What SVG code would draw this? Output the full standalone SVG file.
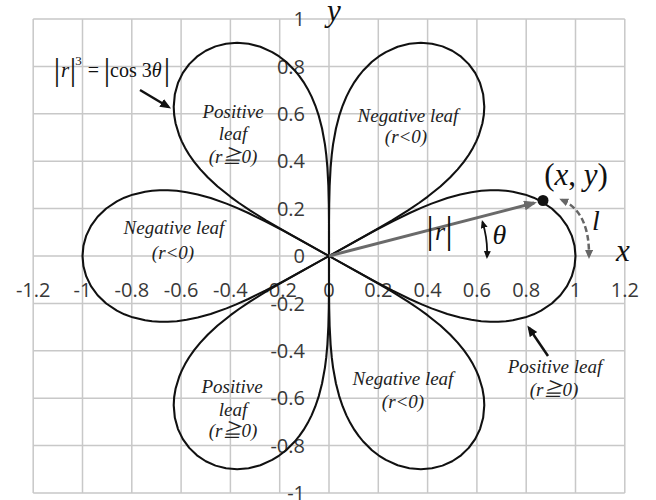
<svg xmlns="http://www.w3.org/2000/svg" xmlns:xlink="http://www.w3.org/1999/xlink" width="656" height="500" viewBox="0 0 656 500">
<style>
.grid{stroke:#c8c8c8;stroke-width:1.5;fill:none}
.num{font-family:"Open Sans","Liberation Sans",sans-serif;font-size:20px;fill:#383838}
.lbl{font-family:"Liberation Serif","Noto Sans CJK JP",serif;font-style:italic;font-size:19px;fill:#222;text-anchor:middle}
.math{font-family:"Liberation Serif","DejaVu Serif",serif;fill:#111}
.it{font-style:italic}
</style>
<defs>
<path id="leaf" d="M0,0 L0.11942,0.06881 0.18984,0.10872 0.25844,0.14622 0.32717,0.18135 0.37623,0.20428 0.41591,0.22114 0.48008,0.24461 0.53249,0.25971 0.57756,0.26932 0.61762,0.27498 0.65384,0.27754 0.68696,0.27755 0.71753,0.27543 0.74583,0.27146 0.79667,0.25886 0.83033,0.24596 0.86055,0.23058 0.90379,0.20036 0.93870,0.16552 0.96562,0.12713 0.98474,0.08615 0.99619,0.04350 1,0 0.99619,-0.04350 0.98474,-0.08615 0.96562,-0.12713 0.93870,-0.16552 0.90379,-0.20036 0.86055,-0.23058 0.83033,-0.24596 0.79667,-0.25886 0.74583,-0.27146 0.71753,-0.27543 0.68696,-0.27755 0.65384,-0.27754 0.61762,-0.27498 0.57756,-0.26932 0.53249,-0.25971 0.48008,-0.24461 0.41591,-0.22114 0.37623,-0.20428 0.32717,-0.18135 0.25844,-0.14622 0.18984,-0.10872 0.11942,-0.06881 Z"/>
<marker id="ahGray" markerUnits="userSpaceOnUse" markerWidth="14" markerHeight="10" refX="10" refY="5" orient="auto"><path d="M0,0 L13,5 L0,10 z" fill="#6a6a6a"/></marker>
<marker id="ahBlack" markerUnits="userSpaceOnUse" markerWidth="12" markerHeight="10" refX="8" refY="4.5" orient="auto"><path d="M0,0 L11,4.5 L0,9 z" fill="#111"/></marker>
<marker id="ahSmall" markerUnits="userSpaceOnUse" markerWidth="9" markerHeight="8" refX="6" refY="3.5" orient="auto-start-reverse"><path d="M0,0 L8,3.5 L0,7 z" fill="#111"/></marker>
<marker id="ahDash" markerUnits="userSpaceOnUse" markerWidth="10" markerHeight="9" refX="6" refY="4" orient="auto-start-reverse"><path d="M0,0 L9,4 L0,8 z" fill="#666"/></marker>
</defs>
<rect width="656" height="500" fill="#fff"/>
<g id="grid" class="grid">
<path d="M33.2,19V493M82.5,19V493M131.8,19V493M181.1,19V493M230.4,19V493M279.7,19V493M329,19V493M378.3,19V493M427.6,19V493M476.9,19V493M526.2,19V493M575.5,19V493M624.8,19V493"/>
<path d="M33.2,19H624.8M33.2,66.4H624.8M33.2,113.8H624.8M33.2,161.2H624.8M33.2,208.6H624.8M33.2,256H624.8M33.2,303.4H624.8M33.2,350.8H624.8M33.2,398.2H624.8M33.2,445.6H624.8M33.2,493H624.8"/>
</g>
<g id="x-tick-labels" class="num" text-anchor="middle">
<text x="33.2" y="296.5">-1.2</text><text x="82.5" y="296.5">-1</text><text x="131.8" y="296.5">-0.8</text><text x="181.1" y="296.5">-0.6</text><text x="230.4" y="296.5">-0.4</text><text x="279.7" y="296.5">-0.2</text><text x="329" y="296.5">0</text><text x="378.3" y="296.5">0.2</text><text x="427.6" y="296.5">0.4</text><text x="476.9" y="296.5">0.6</text><text x="526.2" y="296.5">0.8</text><text x="575.5" y="296.5">1</text><text x="624.8" y="296.5">1.2</text>
</g>
<g id="y-tick-labels" class="num" text-anchor="end">
<text x="305" y="26.2">1</text><text x="305" y="73.6">0.8</text><text x="305" y="121">0.6</text><text x="305" y="168.4">0.4</text><text x="305" y="215.8">0.2</text><text x="305" y="263.2">0</text><text x="305" y="310.6">-0.2</text><text x="305" y="358">-0.4</text><text x="305" y="405.4">-0.6</text><text x="305" y="452.8">-0.8</text><text x="305" y="500.2">-1</text>
</g>
<g id="curve" transform="matrix(246.5 0 0 -237 329 256)" fill="none" stroke="#111" stroke-width="0.0085" stroke-linejoin="round">
<use href="#leaf"/>
<use href="#leaf" transform="rotate(60)"/>
<use href="#leaf" transform="rotate(120)"/>
<use href="#leaf" transform="rotate(180)"/>
<use href="#leaf" transform="rotate(240)"/>
<use href="#leaf" transform="rotate(300)"/>
</g>
<g id="connectors" fill="none">
<path id="r-vector" d="M329,256 L534.1,203" stroke="#6a6a6a" stroke-width="3" marker-end="url(#ahGray)"/>
<path id="formula-arrow" d="M140,90 L168.5,107" stroke="#111" stroke-width="2.5" marker-end="url(#ahBlack)"/>
<path id="positive-arrow" d="M548,356 L529,328" stroke="#111" stroke-width="2.5" marker-end="url(#ahBlack)"/>
<path id="theta-arc" d="M482.5,222 Q488,240 487,257" stroke="#111" stroke-width="1.8" marker-start="url(#ahSmall)" marker-end="url(#ahSmall)"/>
<path id="l-arc" d="M562,200 Q589.5,212 589,256" stroke="#666" stroke-width="2.5" stroke-dasharray="6 3" marker-start="url(#ahDash)" marker-end="url(#ahDash)"/>
</g>
<g id="point">
<circle cx="543" cy="200.5" r="5.5" fill="#111"/>
<text class="math" x="576" y="185" font-size="31" text-anchor="middle">(<tspan class="it">x</tspan>, <tspan class="it">y</tspan>)</text>
</g>
<g id="axis-names" class="math it" font-size="31">
<text x="623" y="261" text-anchor="middle">x</text>
<text x="334" y="21" text-anchor="middle">y</text>
</g>
<g id="r-label" class="math">
<text x="430" y="243" font-size="38" text-anchor="middle">|</text>
<text x="440" y="240" font-size="26" class="it" text-anchor="middle">r</text>
<text x="449" y="243" font-size="38" text-anchor="middle">|</text>
</g>
<text id="theta-label" class="math it" x="499.5" y="244" font-size="28" text-anchor="middle">θ</text>
<text id="l-label" class="math it" x="596" y="230" font-size="28" text-anchor="middle">l</text>
<g id="formula" class="math">
<text x="57" y="80" font-size="32" text-anchor="middle">|</text>
<text x="65" y="77" font-size="21" class="it" text-anchor="middle">r</text>
<text x="73" y="80" font-size="32" text-anchor="middle">|</text>
<text x="78.5" y="65" font-size="13" text-anchor="middle">3</text>
<text x="93.5" y="77" font-size="20" text-anchor="middle">=</text>
<text x="107" y="80" font-size="32" text-anchor="middle">|</text>
<text x="110" y="77" font-size="20">cos 3<tspan class="it">θ</tspan></text>
<text x="167" y="80" font-size="32" text-anchor="middle">|</text>
</g>
<g id="leaf-top-left" class="lbl">
<text x="233" y="118">Positive</text><text x="233" y="140">leaf</text><text x="233" y="163">(r≧0)</text>
</g>
<g id="leaf-top-right" class="lbl">
<text x="408" y="122">Negative leaf</text><text x="406" y="143">(r&lt;0)</text>
</g>
<g id="leaf-left" class="lbl">
<text x="174" y="234">Negative leaf</text><text x="173" y="259">(r&lt;0)</text>
</g>
<g id="leaf-bottom-left" class="lbl">
<text x="232" y="393">Positive</text><text x="233" y="416">leaf</text><text x="233" y="437">(r≧0)</text>
</g>
<g id="leaf-bottom-right" class="lbl">
<text x="403" y="385">Negative leaf</text><text x="403" y="408">(r&lt;0)</text>
</g>
<g id="leaf-right" class="lbl">
<text x="555" y="373">Positive leaf</text><text x="554" y="396">(r≧0)</text>
</g>
</svg>
